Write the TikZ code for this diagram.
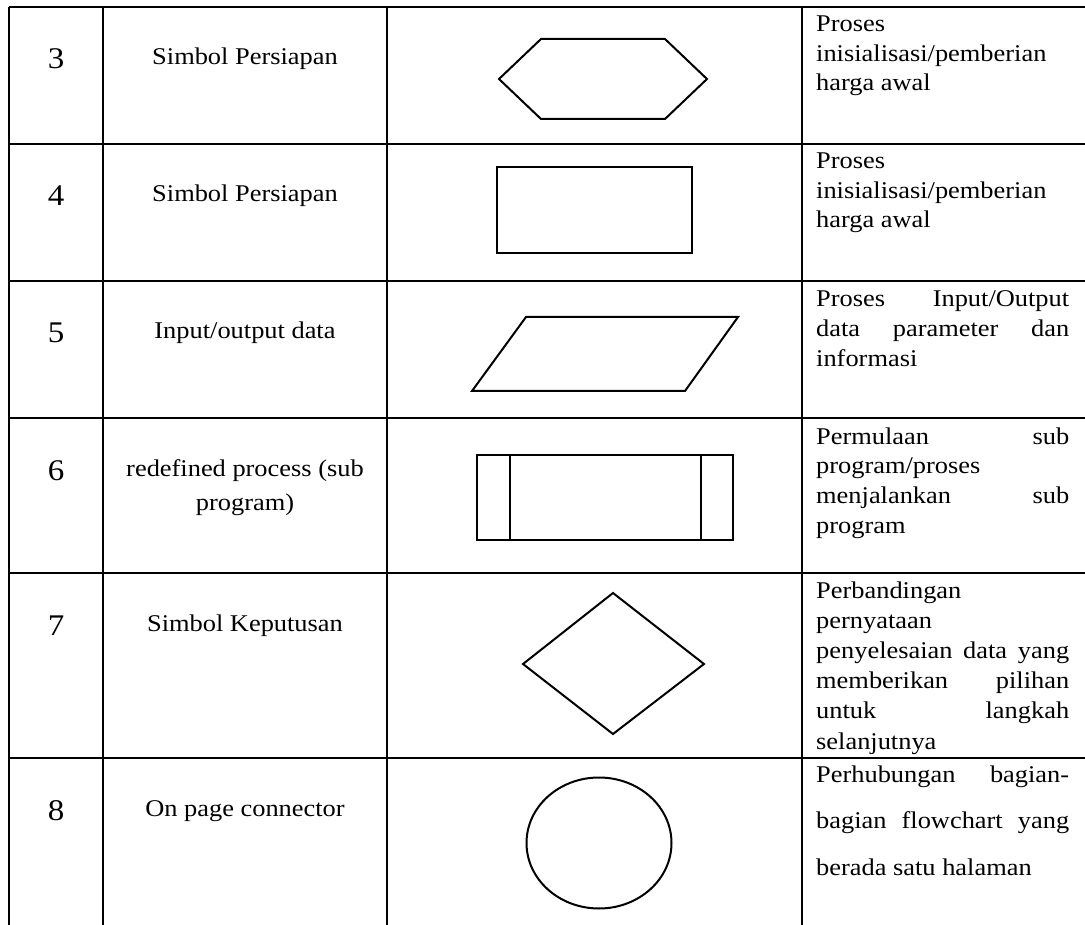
\documentclass[tikz,border=0pt]{standalone}
\usepackage{fontspec}
\setmainfont{Liberation Serif}[FakeStretch=1.1]
\newcommand\jline[1]{\makebox[253pt][s]{#1}}
\newcommand\lline[1]{\makebox[253pt][l]{#1}}
\begin{document}
\begin{tikzpicture}[x=1pt,y=-1pt,
  gridline/.style={line width=2.4pt},
  symb/.style={line width=2pt,line join=miter},
  num/.style={font=\fontsize{30}{36}\selectfont,anchor=base,inner sep=0pt},
  lbl/.style={font=\fontsize{24}{33}\selectfont,anchor=base,inner sep=0pt},
  desc/.style={font=\fontsize{24}{29.5}\selectfont,anchor=base west,inner sep=0pt}]
\useasboundingbox (0,0) rectangle (1085,925);

% table rules
\foreach \y in {7,144,281,418,573,758}
  \draw[gridline] (9,\y) -- (1086,\y);
\foreach \x in {9,103,387,802}
  \draw[gridline] (\x,7) -- (\x,926);

% numbers
\node[num] (n3) at (56,69) {3};
\node[num] (n4) at (56,206) {4};
\node[num] (n5) at (56,343) {5};
\node[num] (n6) at (56,480) {6};
\node[num] (n7) at (56,635) {7};
\node[num] (n8) at (56,820) {8};

% symbol names
\node[lbl] (s3) at (245,65) {Simbol Persiapan};
\node[lbl] (s4) at (245,202) {Simbol Persiapan};
\node[lbl] (s5) at (245,339) {Input/output data};
\node[lbl] (s6a) at (245,476) {redefined process (sub};
\node[lbl] (s6b) at (245,510) {program)};
\node[lbl] (s7) at (245,631) {Simbol Keputusan};
\node[lbl] (s8) at (245,816) {On page connector};

% symbols
\draw[symb] (499,79) -- (541,39) -- (665,39) -- (707,79) -- (665,119) -- (541,119) -- cycle;
\draw[symb] (497,167) rectangle (692,253);
\draw[symb] (526,317) -- (738,317) -- (685,391) -- (472,391) -- cycle;
\draw[symb] (477,455) rectangle (733,540);
\draw[symb] (509.5,455) -- (509.5,540);
\draw[symb] (701,455) -- (701,540);
\draw[symb] (613,593) -- (704,664) -- (613,734) -- (523,664) -- cycle;
\draw[symb] (599,843) ellipse [x radius=72.5,y radius=65.5];

% descriptions
\node[desc] (d3a) at (816,32) {\lline{Proses}};
\node[desc] (d3b) at (816,61.5) {\lline{inisialisasi/pemberian}};
\node[desc] (d3c) at (816,91) {\lline{harga awal}};

\node[desc] (d4a) at (816,169) {\lline{Proses}};
\node[desc] (d4b) at (816,198.5) {\lline{inisialisasi/pemberian}};
\node[desc] (d4c) at (816,228) {\lline{harga awal}};

\node[desc] (d5a) at (816,307) {\jline{Proses Input/Output}};
\node[desc] (d5b) at (816,337) {\jline{data parameter dan}};
\node[desc] (d5c) at (816,366.5) {\lline{informasi}};

\node[desc] (d6a) at (816,444) {\jline{Permulaan sub}};
\node[desc] (d6b) at (816,473) {\lline{program/proses}};
\node[desc] (d6c) at (816,503) {\jline{menjalankan sub}};
\node[desc] (d6d) at (816,533) {\lline{program}};

\node[desc] (d7a) at (816,598) {\lline{Perbandingan}};
\node[desc] (d7b) at (816,628) {\lline{pernyataan}};
\node[desc] (d7c) at (816,658) {\jline{penyelesaian data yang}};
\node[desc] (d7d) at (816,688) {\jline{memberikan pilihan}};
\node[desc] (d7e) at (816,718) {\jline{untuk langkah}};
\node[desc] (d7f) at (816,749) {\lline{selanjutnya}};

\node[desc] (d8a) at (816,782) {\jline{Perhubungan bagian-}};
\node[desc] (d8b) at (816,828) {\jline{bagian flowchart yang}};
\node[desc] (d8c) at (816,875) {\lline{berada satu halaman}};
\end{tikzpicture}
\end{document}
